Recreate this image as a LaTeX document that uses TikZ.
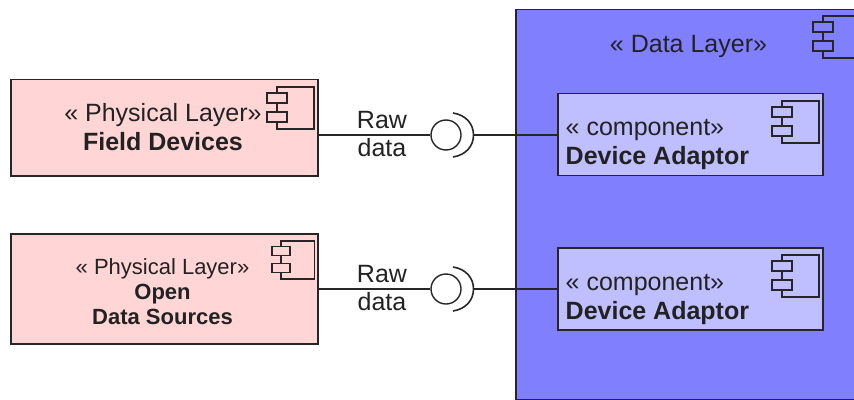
\documentclass[tikz,border=0pt]{standalone}
\usepackage{fontspec}
\setmainfont{Liberation Sans}
\usepackage{tikz}
\definecolor{physfill}{HTML}{FFD5D5}
\definecolor{layerfill}{HTML}{8080FF}
\definecolor{compfill}{HTML}{BFBFFF}
\definecolor{inktext}{HTML}{222222}
\tikzset{
	physbox/.style={draw=black!85, line width=1.6pt, fill=physfill, rectangle, anchor=north west, inner sep=0pt},
	layerbox/.style={physbox, fill=layerfill},
	compbox/.style={physbox, fill=compfill},
	ball/.style={draw=black!85, line width=1.4pt, fill=white, circle, minimum size=30pt, inner sep=0pt},
	wire/.style={draw=black!85, line width=1.6pt},
	caption/.style={text=inktext, font=\fontsize{25}{29}\selectfont, align=center, inner sep=0pt},
	smallcaption/.style={text=inktext, font=\fontsize{22}{25}\selectfont, align=center, inner sep=0pt},
	leftcaption/.style={caption, align=left, anchor=north west},
	compicon/.pic={
		\draw[wire] (0,6) -- (0,0) -- (37,0) -- (37,42) -- (0,42) -- (0,35);
		\draw[wire] (0,16) -- (0,25);
		\draw[wire] (-10,6) rectangle (10,16);
		\draw[wire] (-10,25) rectangle (10,35);
	}
}
\begin{document}
\begin{tikzpicture}[x=1pt, y=-1pt]
	\useasboundingbox (0,0) rectangle (854,399);
	% data layer
	\node[layerbox, minimum width=345pt, minimum height=390.5pt] (dataLayer) at (515,8.5) {};
	\node[caption] (dataLayerText) at (688.5,46) {« Data Layer»};
	\pic at (823,16) {compicon};
	% physical layers
	\node[physbox, minimum width=307pt, minimum height=96.5pt] (fieldDevices) at (10,78.5) {};
	\node[caption] (fieldDevicesText) at (163,127.5) {« Physical Layer»\\\textbf{Field Devices}};
	\pic at (277,87) {compicon};
	\node[physbox, minimum width=307pt, minimum height=110pt] (openData) at (10,233) {};
	\node[smallcaption] (openDataText) at (162.5,292) {« Physical Layer»\\\textbf{Open}\\\textbf{Data Sources}};
	\pic[scale=0.9] at (281,241) {compicon};
	% adaptors
	\node[compbox, minimum width=265pt, minimum height=82pt] (adaptorOne) at (557,92.5) {};
	\node[leftcaption] (adaptorOneText) at (565.5,119.5) {« component»\\\textbf{Device Adaptor}};
	\pic at (782,101) {compicon};
	\node[compbox, minimum width=265pt, minimum height=82pt] (adaptorTwo) at (557,247) {};
	\node[leftcaption] (adaptorTwoText) at (565.5,274) {« component»\\\textbf{Device Adaptor}};
	\pic at (782,255) {compicon};
	% interfaces
	\foreach \ifname/\ypos/\source/\target in {upper/135/fieldDevices/adaptorOne, lower/289/openData/adaptorTwo}{
		\node[ball] (ball\ifname) at (446,\ypos) {};
		\coordinate (socket\ifname) at (473.5,\ypos);
		\draw[wire] (ball\ifname.west -| \source.east) -- (ball\ifname.west);
		\draw[wire] (socket\ifname) -- (socket\ifname -| \target.west);
		\draw[wire] (453,\ypos-22) .. controls (466,\ypos-20) and (473.5,\ypos-11) .. (socket\ifname) .. controls (473.5,\ypos+11) and (466,\ypos+20) .. (453,\ypos+22);
		\node[caption] (raw\ifname) at (382,\ypos-15) {Raw};
		\node[caption] (data\ifname) at (382,\ypos+13) {data};
	}
\end{tikzpicture}
\end{document}
